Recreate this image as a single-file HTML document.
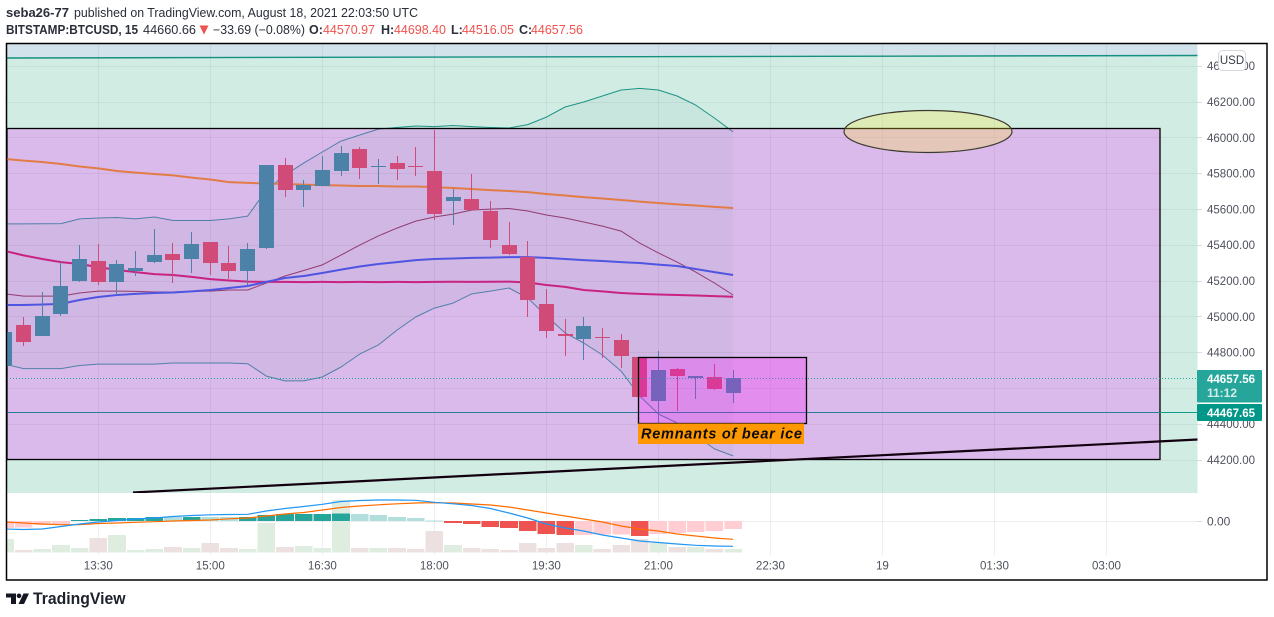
<!DOCTYPE html>
<html lang="en">
<head>
<meta charset="utf-8">
<title>BTCUSD chart</title>
<style>
html,body{margin:0;padding:0;background:#fff;width:1274px;height:617px;overflow:hidden}
svg{display:block;font-family:"Liberation Sans",sans-serif}
</style>
</head>
<body>
<svg id="chart" width="1274" height="617" viewBox="0 0 1274 617" xmlns="http://www.w3.org/2000/svg">
  <defs>
    <clipPath id="clip-main"><rect x="7" y="44" width="1190.5" height="449"/></clipPath>
    <clipPath id="clip-sub"><rect x="7" y="493" width="1190.5" height="62"/></clipPath>
    <clipPath id="clip-over-green"><rect x="7" y="44" width="1190" height="84.5"/></clipPath>
    <clipPath id="clip-over-purple"><rect x="7" y="128.5" width="1190" height="365"/></clipPath>
  </defs>

  <g font-size="12.5" fill="#2a2e39">
    <text x="6" y="17" font-weight="700" textLength="63" lengthAdjust="spacingAndGlyphs">seba26-77</text>
    <text x="74" y="17" textLength="344" lengthAdjust="spacingAndGlyphs">published on TradingView.com, August 18, 2021 22:03:50 UTC</text>
    <text x="6" y="34" font-weight="700" textLength="132" lengthAdjust="spacingAndGlyphs">BITSTAMP:BTCUSD, 15</text>
    <text x="143" y="34" textLength="53" lengthAdjust="spacingAndGlyphs">44660.66</text>
    <polygon points="199.5,25.500 208.500,25.500 204,34.500" fill="#ef5350"/>
    <text x="213" y="34" textLength="92" lengthAdjust="spacingAndGlyphs">−33.69 (−0.08%)</text>
    <text x="309" y="34" font-weight="700">O:</text>
    <text x="323" y="34" fill="#ef5350" textLength="52" lengthAdjust="spacingAndGlyphs">44570.97</text>
    <text x="381" y="34" font-weight="700">H:</text>
    <text x="394" y="34" fill="#ef5350" textLength="52" lengthAdjust="spacingAndGlyphs">44698.40</text>
    <text x="451" y="34" font-weight="700">L:</text>
    <text x="462" y="34" fill="#ef5350" textLength="52" lengthAdjust="spacingAndGlyphs">44516.05</text>
    <text x="519" y="34" font-weight="700">C:</text>
    <text x="531" y="34" fill="#ef5350" textLength="52" lengthAdjust="spacingAndGlyphs">44657.56</text>
  </g>

  <rect x="7" y="44" width="1260" height="536" fill="#ffffff"/>
  <g clip-path="url(#clip-main)">
    <rect x="7" y="44" width="1190.5" height="449" fill="#d1ece3"/>
    <polygon points="7,44 1198,44 1198,55.5 7,58" fill="#d2e3ec"/>
    <rect x="7" y="128.5" width="1153" height="331" fill="#dabaea"/>
    <g id="grid-main"></g>
    <g id="bands"></g>
    <line x1="7" y1="58" x2="1198" y2="55.5" stroke="#16907f" stroke-width="1.4"/>
    <rect x="7" y="128.5" width="1153" height="331" fill="none" stroke="#000" stroke-width="1.3"/>
    <g id="ma-lines"></g>
    <g id="candles"></g>
    <line x1="7" y1="378.5" x2="1198" y2="378.5" stroke="#26a69a" stroke-width="1" stroke-dasharray="1 2"/>
    <line x1="7" y1="412.5" x2="1160" y2="412.5" stroke="#2b7c9a" stroke-width="1"/>
    <line x1="1160" y1="412.5" x2="1198" y2="412.5" stroke="#0f9d8c" stroke-width="1"/>
    <line x1="133" y1="492.5" x2="1198" y2="439.5" stroke="#12000f" stroke-width="2.2"/>
    <rect x="638.5" y="357.5" width="168" height="66" fill="rgba(255,0,255,0.24)" stroke="#000" stroke-width="1.3"/>
    <rect x="638" y="423.5" width="166" height="20.5" fill="#ff9800"/>
    <text x="641" y="438.5" font-size="14.5" font-weight="700" font-style="italic" fill="#0b0b0b" textLength="161" lengthAdjust="spacing">Remnants of bear ice</text>
    <ellipse cx="928" cy="131.5" rx="84" ry="21" fill="rgba(255,235,59,0.28)" stroke="#3b3b2f" stroke-width="1.2"/>
  </g>

  <g clip-path="url(#clip-sub)">
    <g id="grid-sub"></g>
    <g id="volume"></g>
    <g id="macd"></g>
  </g>

  <g id="price-axis" font-size="12" fill="#4f525c"></g>
  <g id="time-axis" font-size="12" fill="#4f525c"></g>

  <g>
    <rect x="1218.5" y="50.5" width="27" height="20" rx="4" fill="#fff" stroke="#d6d8de"/>
    <text x="1232" y="64" text-anchor="middle" font-size="11.5" fill="#3a3d46">USD</text>
  </g>
  <g>
    <rect x="1197" y="370" width="65" height="32.5" rx="1" fill="#26a69a"/>
    <text x="1207" y="383" font-size="12" font-weight="700" fill="#fff" textLength="48" lengthAdjust="spacingAndGlyphs">44657.56</text>
    <text x="1207" y="397" font-size="12" font-weight="700" fill="#d4eeeb">11:12</text>
  </g>
  <g>
    <rect x="1197" y="404" width="65" height="17" rx="1" fill="#009688"/>
    <text x="1207" y="417" font-size="12" font-weight="700" fill="#fff" textLength="48" lengthAdjust="spacingAndGlyphs">44467.65</text>
  </g>

  <rect x="6.5" y="43.5" width="1260.5" height="536.5" fill="none" stroke="#000" stroke-width="1.5"/>

  <g>
    <path d="M6 593.500h10v10.500h-5v-6.500H6z M19 593.500a2.300 2.300 0 1 0 0.010 0z M23.500 593.500h5.500l-5 10.500h-5.500z" fill="#131722"/>
    <text x="33" y="604" font-size="16.500" font-weight="700" fill="#1e222d" textLength="92.500" lengthAdjust="spacingAndGlyphs">TradingView</text>
  </g>

<script>
const categories = ["12:15","12:30","12:45","13:00","13:15","13:30","13:45","14:00","14:15","14:30","14:45","15:00","15:15","15:30","15:45","16:00","16:15","16:30","16:45","17:00","17:15","17:30","17:45","18:00","18:15","18:30","18:45","19:00","19:15","19:30","19:45","20:00","20:15","20:30","20:45","21:00","21:15","21:30","21:45","22:00"];
const opens = [44725,44951,44890,45013,45197,45309,45192,45253,45303,45348,45320,45415,45298,45253,45382,45845,45705,45728,45812,45935,45834,45856,45840,45812,45644,45655,45588,45398,45331,45069,44901,44873,44884,44868,44773,44527,44706,44655,44661,44570.97];
const highs = [44912,44996,45136,45303,45398,45404,45314,45365,45488,45409,45471,45415,45393,45409,45845,45884,45761,45896,45951,45946,45879,45896,45946,46041,45711,45795,45644,45527,45421,45152,44985,44996,44935,44901,44773,44806,44711,44666,44733,44698.4];
const lows = [44722,44834,44890,45002,45192,45175,45119,45225,45298,45186,45242,45231,45208,45175,45376,45666,45611,45728,45784,45767,45739,45761,45784,45538,45510,45594,45382,45342,44996,44879,44778,44756,44767,44711,44549,44404,44471,44538,44588,44516.05];
const closes = [44912,44856,45002,45169,45320,45192,45292,45270,45342,45314,45404,45298,45253,45376,45845,45705,45733,45817,45912,45828,45840,45823,45834,45571,45666,45594,45426,45348,45091,44918,44890,44946,44879,44778,44549,44700,44666,44666,44594,44657.56];
const bbUpper = [45516,45516,45517,45518,45544,45549,45552,45544,45555,45535,45535,45535,45544,45560,45705,45789,45856,45918,45979,46013,46046,46055,46063,46060,46066,46060,46055,46052,46071,46113,46169,46197,46231,46264,46273,46264,46231,46180,46108,46030];
const bbBasis = [45125,45113,45113,45113,45130,45141,45141,45139,45136,45136,45139,45141,45147,45147,45186,45225,45256,45287,45342,45398,45449,45493,45532,45555,45571,45594,45599,45602,45588,45566,45549,45527,45504,45476,45409,45354,45303,45247,45186,45119];
const bbLower = [44733,44708,44708,44708,44725,44733,44733,44733,44733,44739,44739,44739,44739,44735,44666,44639,44639,44661,44717,44789,44840,44923,44996,45046,45074,45125,45141,45158,45102,45002,44907,44851,44784,44694,44555,44454,44404,44337,44259,44220];
const maOrange = [45879,45870,45862,45851,45837,45826,45812,45803,45795,45787,45775,45764,45750,45745,45742,45739,45736,45733,45731,45728,45728,45725,45725,45722,45717,45711,45705,45700,45694,45683,45675,45666,45658,45650,45641,45633,45625,45619,45611,45605];
const maBlue = [45063,45063,45066,45069,45091,45108,45119,45125,45130,45133,45139,45147,45158,45169,45192,45214,45225,45242,45261,45278,45292,45303,45314,45320,45323,45326,45328,45331,45331,45326,45320,45314,45309,45303,45298,45289,45281,45264,45247,45231];
const maMagenta = [45365,45340,45320,45303,45292,45275,45259,45247,45236,45231,45220,45208,45200,45194,45192,45192,45191,45192,45191,45192,45191,45192,45191,45192,45193,45192,45193,45194,45189,45175,45164,45147,45139,45130,45125,45122,45119,45116,45113,45109];
const macdLine = [-24,-25.5,-24,-16.5,-9,-3,1.5,6,9,13.5,16.5,18.6,19.5,20,30,37.5,43.5,50,58.5,61.5,63,63,62,56,51.6,46.5,37.5,24,9,-9,-21,-30,-42,-51,-60,-64.5,-69,-73,-75,-76];
const signalLine = [-3,-6,-9,-11,-11,-7.5,-6,-4,-2,0,1.5,3,6.6,9,15,21,25.5,33,40.5,45,48.6,51.6,54,55,54,51,48,42,33,24,15,6,-3,-15,-24,-30,-39,-45,-51,-55];
const macdHist = [-21,-20,-12,-9,3,6,9,9.500,12,11.500,12.500,12,11.500,12,18,21,21.300,21.600,22,21.500,18,12,9,1.500,-6,-9,-18,-21,-30,-39,-42,-41.500,-41,-40.500,-45,-39,-36,-33,-30,-24];
const volumes = [67,12,18,38,22,72,88,12,18,28,22,48,22,18,148,28,32,22,262,22,22,22,18,108,38,22,18,12,48,22,48,38,18,38,68,48,28,28,18,18];
const priceTicks = [46400,46200,46000,45800,45600,45400,45200,45000,44800,44600,44400,44200];
const timeTicks = ["13:30","15:00","16:30","18:00","19:30","21:00","22:30","19","01:30","03:00"];
const macdTicks = [0];

const SVG_NS = 'http://www.w3.org/2000/svg';
const xScale = i => 98.3 + 18.67 * (i - 5);
const priceY = p => 137.3 + (46000 - p) * 0.179;
const macdY = v => 521 - v / 3;
const volY = v => 552.5 - v / 5;

function mk(parentId, tag, props, text) {
  const el = document.createElementNS(SVG_NS, tag);
  for (const k in props) el.setAttribute(k, props[k]);
  if (text !== undefined) el.textContent = text;
  document.getElementById(parentId).appendChild(el);
  return el;
}
function pts(values, yFn) {
  return values.map((v, i) => xScale(i).toFixed(1) + ',' + yFn(v).toFixed(1)).join(' ');
}
function seriesLine(parentId, values, yFn, stroke, width, clip) {
  const props = {points: pts(values, yFn), fill: 'none', stroke: stroke, 'stroke-width': width, 'stroke-linejoin': 'round'};
  if (clip) props['clip-path'] = 'url(#' + clip + ')';
  return mk(parentId, 'polyline', props);
}

/* horizontal and vertical gridlines */
priceTicks.forEach(p => {
  const y = Math.round(priceY(p)) + 0.5;
  const g = mk('grid-main', 'line', {x1: 7, x2: 1198, y1: y, y2: y, stroke: 'rgba(70,60,90,0.07)'});
  
  
});
timeTicks.forEach((t, k) => {
  const x = Math.round(xScale(5 + k * 6)) + 0.5;
  const g = mk('grid-main', 'line', {x1: x, x2: x, y1: 44, y2: 493, stroke: 'rgba(70,60,90,0.07)'});
  
  
  const s = mk('grid-sub', 'line', {x1: x, x2: x, y1: 493, y2: 555, stroke: 'rgba(70,60,90,0.09)'});
  
  
  const lab = mk('time-axis', 'text', {x: xScale(5 + k * 6), y: 569.5, 'text-anchor': 'middle', 'font-size': 11.6}, t);
  
  
});
macdTicks.forEach(v => {
  const y = Math.round(macdY(v)) + 0.5;
  const g = mk('grid-sub', 'line', {x1: 7, x2: 1198, y1: y, y2: y, stroke: 'rgba(70,60,90,0.09)'});
  
  
  const tk = mk('price-axis', 'line', {x1: 1197, x2: 1202, y1: y, y2: y, stroke: '#dcdde0'});
  
  
  const lab = mk('price-axis', 'text', {x: 1207, y: macdY(v) + 4.5}, v.toFixed(2));
  
  
});

/* price axis */
priceTicks.forEach(p => {
  const y = Math.round(priceY(p)) + 0.5;
  const tk = mk('price-axis', 'line', {x1: 1197, x2: 1202, y1: y, y2: y, stroke: '#dcdde0'});
  
  
  const lab = mk('price-axis', 'text', {x: 1207, y: priceY(p) + 4.5, textLength: 48, lengthAdjust: 'spacingAndGlyphs'}, p.toFixed(2));
  
  
});

/* Bollinger band fill and lines */
const upperPts = bbUpper.map((v, i) => xScale(i).toFixed(1) + ',' + priceY(v).toFixed(1));
const lowerPts = bbLower.map((v, i) => xScale(i).toFixed(1) + ',' + priceY(v).toFixed(1)).reverse();
const bandFill = mk('bands', 'polygon', {points: upperPts.concat(lowerPts).join(' '), fill: 'rgba(0,120,120,0.045)'});


const upGreen = seriesLine('bands', bbUpper, priceY, '#1d9484', 1, 'clip-over-green');


const upPurple = seriesLine('bands', bbUpper, priceY, '#527fa8', 1, 'clip-over-purple');


const basisLine = seriesLine('bands', bbBasis, priceY, '#913c6e', 1);


const lowLine = seriesLine('bands', bbLower, priceY, '#527fa8', 1);



/* moving averages */
const orangeLine = seriesLine('ma-lines', maOrange, priceY, '#e27c46', 2);


const magentaLine = seriesLine('ma-lines', maMagenta, priceY, '#c82382', 2);


const blueLine = seriesLine('ma-lines', maBlue, priceY, '#5055e1', 2);



/* candles */
categories.forEach((c, i) => {
  const up = closes[i] >= opens[i];
  const col = up ? '#4d82a8' : '#d04b78';
  const cx = Math.round(xScale(i) - 0.5);
  const top = Math.round(priceY(Math.max(opens[i], closes[i])));
  const bot = Math.round(priceY(Math.min(opens[i], closes[i])));
  const wick = mk('candles', 'rect', {x: cx, y: Math.round(priceY(highs[i])), width: 1, height: Math.max(1, Math.round(priceY(lows[i])) - Math.round(priceY(highs[i]))), fill: col, 'shape-rendering': 'crispEdges'});
  
  
  const body = mk('candles', 'rect', {x: cx - 7, y: top, width: 15, height: Math.max(1, bot - top), fill: col, 'shape-rendering': 'crispEdges'});
  
  
});

/* volume */
categories.forEach((c, i) => {
  const up = closes[i] >= opens[i];
  const y = volY(volumes[i]);
  const bar = mk('volume', 'rect', {x: xScale(i) - 8.8, y: y, width: 17.6, height: 552.5 - y, fill: up ? '#deede0' : '#ede0e1', 'shape-rendering': 'crispEdges'});
  
  
});

/* MACD histogram */
categories.forEach((c, i) => {
  const v = macdHist[i];
  const prev = i > 0 ? macdHist[i - 1] : null;
  let col;
  if (v >= 0) col = prev !== null && v > prev ? '#26a69a' : '#b2dfdb';
  else col = prev !== null && v < prev ? '#ef5350' : '#ffcdd2';
  const y0 = macdY(0), y1 = macdY(v);
  const bar = mk('macd', 'rect', {x: xScale(i) - 8.8, y: Math.min(y0, y1), width: 17.6, height: Math.max(1, Math.abs(y1 - y0)), fill: col, 'shape-rendering': 'crispEdges'});
  
  
});
const sigLine = seriesLine('macd', signalLine, macdY, '#ff6d00', 1.2);


const mLine = seriesLine('macd', macdLine, macdY, '#2196f3', 1.2);


</script>
</svg>
</body>
</html>
